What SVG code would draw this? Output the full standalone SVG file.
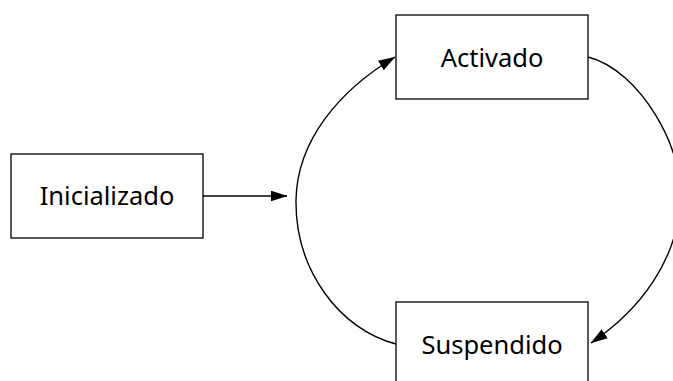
<svg xmlns="http://www.w3.org/2000/svg" width="673" height="381" viewBox="0 0 673 381">
  <style>
    .box { fill: #ffffff; stroke: #000000; stroke-width: 1.3; }
    .label { font-family: "Noto Sans", "Open Sans", sans-serif; font-size: 25.5px; fill: #000000; text-anchor: middle; }
    .edge { fill: none; stroke: #000000; stroke-width: 1.4; marker-end: url(#arrow); }
  </style>
  <defs>
    <marker id="arrow" markerUnits="userSpaceOnUse" markerWidth="17" markerHeight="11" viewBox="0 0 17 11" refX="16.5" refY="5.5" orient="auto">
      <path d="M0,0 L17,5.5 L0,11 Z" fill="#000000"/>
    </marker>
  </defs>
  <rect width="673" height="381" fill="#ffffff"/>

  <g id="connectors">
    <path class="edge" d="M203,196 L287,196"/>
    <path class="edge" d="M396,344 C340,330 295,270 296,200 C297,140 340,90 395,57"/>
    <path class="edge" d="M588,57 C640,70 685,150 680,200 C678,260 640,310 591,343"/>
  </g>

  <g id="node-inicializado">
    <rect class="box" x="11" y="154" width="192" height="84"/>
    <text class="label" x="107" y="205">Inicializado</text>
  </g>
  <g id="node-activado">
    <rect class="box" x="396" y="15" width="192" height="84"/>
    <text class="label" x="492" y="67">Activado</text>
  </g>
  <g id="node-suspendido">
    <rect class="box" x="396" y="302" width="192" height="84"/>
    <text class="label" x="492" y="354">Suspendido</text>
  </g>
</svg>
